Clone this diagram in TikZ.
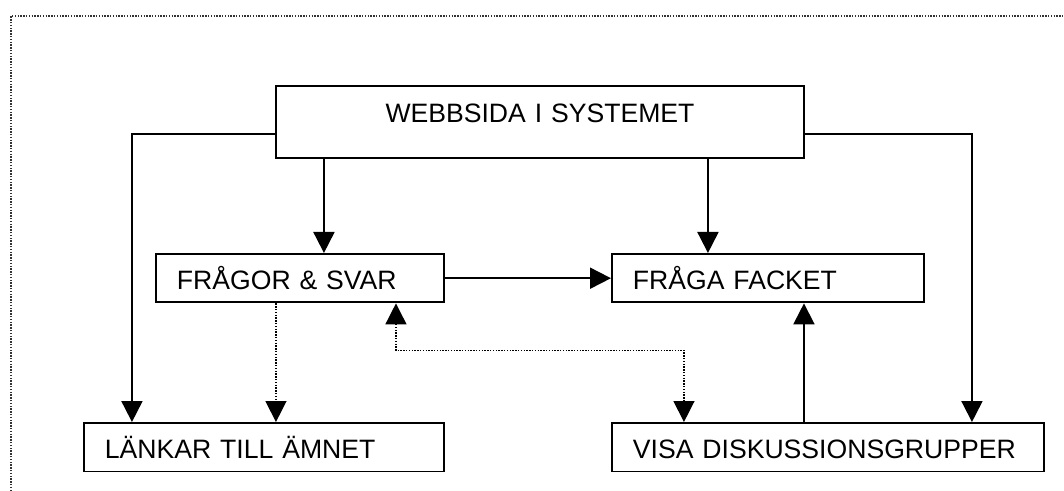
\documentclass[tikz,border=0pt]{standalone}
\usepackage{fontspec}
\setmainfont{Liberation Sans}
\usetikzlibrary{arrows.meta,calc}

\begin{document}
\begin{tikzpicture}[x=0.5pt,y=-0.5pt,line width=0.95pt,
      >={Triangle[length=10.5pt,width=10.5pt]},
      font=\fontsize{13.3pt}{15pt}\selectfont,
      box/.style={draw,rectangle,anchor=north west,inner ysep=0pt,
        inner xsep=10.5pt,align=left,text height=17.75pt,text depth=6.5pt},
      dots/.style={line width=0.7pt,dash pattern=on 0.7pt off 0.7pt}]
			\useasboundingbox (0,0) rectangle (1064,491);
			\draw[dots,black!80] (11,491) -- (11,16) -- (1064,16);
			\node[box,align=center,text width=243pt,text height=18.5pt,text depth=17.5pt] (web) at (275,85) {WEBBSIDA I SYSTEMET};
			\node[box,text width=123pt] (fs) at (155,253) {FRÅGOR \& SVAR};
			\node[box,text width=135pt] (fack) at (611,253) {FRÅGA FACKET};
			\node[box,text width=159pt] (lank) at (83,422) {LÄNKAR TILL ÄMNET};
			\node[box,text width=195pt] (visa) at (611,422) {VISA DISKUSSIONSGRUPPER};
			\draw[->] ([xshift=12pt]fs.north |- web.south) -- ([xshift=12pt]fs.north);
			\draw[->] ([xshift=-30pt]fack.north |- web.south) -- ([xshift=-30pt]fack.north);
			\draw[->] ([yshift=-6pt]web.west) -| ([xshift=-66pt]lank.north);
			\draw[->] ([yshift=-6pt]web.east) -| ([xshift=72pt]visa.north);
			\draw[->] (fs.east) -- (fack.west);
			\draw[->] ([xshift=-12pt]visa.north) -- ([xshift=-12pt]visa.north |- fack.south);
			\draw[->,dots] ([xshift=-12pt]fs.south) -- ([xshift=-12pt]fs.south |- lank.north);
			\draw[<->,dots] ([xshift=48pt]fs.south) -- ++(0pt,-23.5pt) -| ([xshift=-72pt]visa.north);
		\end{tikzpicture}
\end{document}
